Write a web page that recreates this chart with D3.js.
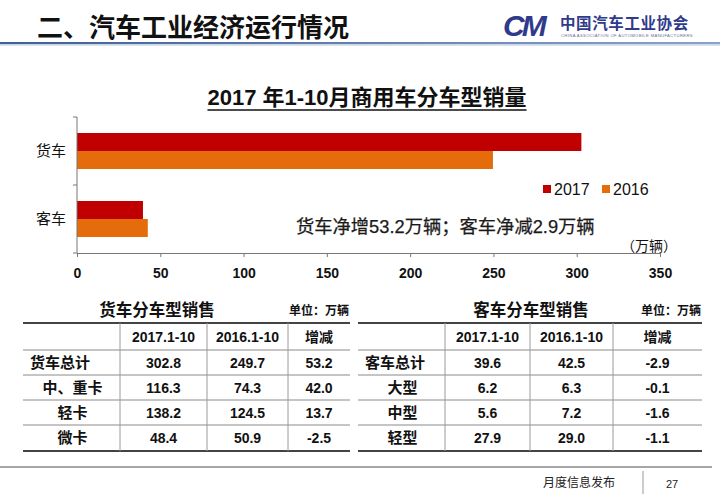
<!DOCTYPE html>
<html><head><meta charset="utf-8">
<script src="https://cdn.jsdelivr.net/npm/d3@7"></script>
<style>
body{margin:0;background:#fff;}
svg{display:block;}
</style></head>
<body>
<svg id="c" width="720" height="498"></svg>
<script>
// ---- data ----
const categories = ["货车", "客车"];
const seriesNames = ["2017", "2016"];
const sales2017 = [302.8, 39.6];
const sales2016 = [249.7, 42.5];
const xTicks = [0, 50, 100, 150, 200, 250, 300, 350];

const truckHeader = ["", "2017.1-10", "2016.1-10", "增减"];
const truckLabels = ["货车总计", "中、重卡", "轻卡", "微卡"];
const truck2017 = ["302.8", "116.3", "138.2", "48.4"];
const truck2016 = ["249.7", "74.3", "124.5", "50.9"];
const truckDiff = ["53.2", "42.0", "13.7", "-2.5"];

const busLabels = ["客车总计", "大型", "中型", "轻型"];
const bus2017 = ["39.6", "6.2", "5.6", "27.9"];
const bus2016 = ["42.5", "6.3", "7.2", "29.0"];
const busDiff = ["-2.9", "-0.1", "-1.6", "-1.1"];

// ---- drawing ----
const svg = d3.select("#c");
const FONT = "'Liberation Sans','Noto Sans CJK SC',sans-serif";
const CJK = "'Noto Sans CJK SC','Liberation Sans',sans-serif";
const colors = {"2017": "#C00000", "2016": "#E46C0A"};

// header
svg.append("text").attr("x", 37).attr("y", 37)
  .attr("font-family", CJK).attr("font-weight", "bold").attr("font-size", 26)
  .attr("fill", "#111").text("二、汽车工业经济运行情况");
const hg = svg.append("defs").append("linearGradient").attr("id", "hl");
hg.append("stop").attr("offset", "0%").attr("stop-color", "#3f5f96");
hg.append("stop").attr("offset", "100%").attr("stop-color", "#8aa3c8");
svg.append("rect").attr("x", 0).attr("y", 42).attr("width", 720).attr("height", 2.2).attr("fill", "url(#hl)");
svg.append("rect").attr("x", 0).attr("y", 44.2).attr("width", 720).attr("height", 1.5).attr("fill", "#c9d4e6");

// logo
const logoC = "#2f3a8a";
svg.append("text").attr("x", 503).attr("y", 36)
  .attr("font-family", FONT).attr("font-weight", "bold").attr("font-style", "italic")
  .attr("font-size", 30).attr("fill", logoC).attr("letter-spacing", -3).text("CM");
svg.append("text").attr("x", 560).attr("y", 29)
  .attr("font-family", CJK).attr("font-weight", "bold").attr("font-size", 15.5)
  .attr("fill", logoC).attr("letter-spacing", 0.6).text("中国汽车工业协会");
svg.append("text").attr("x", 561).attr("y", 37)
  .attr("font-family", FONT).attr("font-size", 4.2)
  .attr("fill", "#6a6f90").attr("letter-spacing", 0.35).text("CHINA ASSOCIATION OF AUTOMOBILE MANUFACTURERS");

// chart title
const title = svg.append("text").attr("x", 367).attr("y", 105).attr("text-anchor", "middle")
  .attr("font-family", FONT).attr("font-weight", "bold").attr("font-size", 22)
  .attr("fill", "#111").text("2017 年1-10月商用车分车型销量");
const tb = title.node().getBBox();
svg.append("line").attr("x1", tb.x).attr("x2", tb.x + tb.width).attr("y1", 110).attr("y2", 110)
  .attr("stroke", "#111").attr("stroke-width", 1.5);

// scales
const x = d3.scaleLinear().domain([0, 350]).range([77, 660]);
const y = d3.scaleBand().domain(categories).range([117, 253]);
const yInner = d3.scaleBand().domain(seriesNames).range([0, 36]);
const innerOff = (y.bandwidth() - 36) / 2;

const barData = [];
categories.forEach((c, i) => {
  barData.push({cat: c, s: "2017", v: sales2017[i]});
  barData.push({cat: c, s: "2016", v: sales2016[i]});
});
svg.append("g").selectAll("rect").data(barData).join("rect")
  .attr("x", x(0))
  .attr("y", d => y(d.cat) + innerOff + yInner(d.s))
  .attr("width", d => x(d.v) - x(0))
  .attr("height", yInner.bandwidth())
  .attr("fill", d => colors[d.s]);

// x axis
const xa = svg.append("g").attr("transform", "translate(0,253)")
  .call(d3.axisBottom(x).tickValues(xTicks).tickSize(4).tickPadding(11).tickSizeOuter(0));
xa.select(".domain").attr("stroke", "#777");
xa.selectAll(".tick line").attr("stroke", "#777");
xa.selectAll(".tick text").attr("font-family", FONT).attr("font-weight", "bold")
  .attr("font-size", 14).attr("fill", "#111");

// y axis
const yg = svg.append("g");
yg.append("line").attr("x1", x(0)).attr("x2", x(0)).attr("y1", y.range()[0]).attr("y2", y.range()[1])
  .attr("stroke", "#777");
const edges = categories.map(c => y(c)).concat([y.range()[1]]);
yg.selectAll("line.t").data(edges).join("line").attr("class", "t")
  .attr("x1", x(0) - 4).attr("x2", x(0)).attr("y1", d => d).attr("y2", d => d).attr("stroke", "#777");
yg.selectAll("text").data(categories).join("text")
  .attr("x", 66).attr("y", d => y(d) + y.bandwidth() / 2).attr("dy", "0.35em")
  .attr("text-anchor", "end").attr("font-family", CJK).attr("font-size", 15).attr("fill", "#111")
  .text(d => d);

// legend
const lg = svg.append("g").attr("transform", "translate(543,189)");
seriesNames.forEach((s, i) => {
  const g = lg.append("g").attr("transform", `translate(${i * 59},0)`);
  g.append("rect").attr("x", 0).attr("y", -4).attr("width", 8).attr("height", 8).attr("fill", colors[s]);
  g.append("text").attr("x", 11).attr("y", 0).attr("dy", "0.36em")
    .attr("font-family", FONT).attr("font-size", 16).attr("fill", "#111").text(s);
});

// annotation
svg.append("text").attr("x", 296).attr("y", 226).attr("dy", "0.36em")
  .attr("font-family", FONT).attr("font-size", 18.3).attr("fill", "#1a1a1a")
  .attr("stroke", "#1a1a1a").attr("stroke-width", 0.25)
  .text("货车净增53.2万辆；客车净减2.9万辆");
svg.append("text").attr("x", 621).attr("y", 246).attr("dy", "0.36em")
  .attr("font-family", CJK).attr("font-size", 14).attr("fill", "#111").text("（万辆）");

// tables
function drawTable(left, colEdges, tTitle, labels, c1, c2, c3) {
  const rows = [323, 350, 375, 400, 425, 451];
  const g = svg.append("g");
  const L = colEdges[0], R = colEdges[colEdges.length - 1];
  g.append("text").attr("x", tTitle.cx).attr("y", 310).attr("dy", "0.36em").attr("text-anchor", "middle")
    .attr("font-family", CJK).attr("font-weight", "bold").attr("font-size", 16.5).attr("fill", "#111")
    .text(tTitle.t);
  g.append("text").attr("x", R - 1).attr("y", 311).attr("dy", "0.36em").attr("text-anchor", "end")
    .attr("font-family", CJK).attr("font-weight", "bold").attr("font-size", 12).attr("fill", "#111")
    .text("单位：万辆");
  rows.forEach((ry, i) => {
    const outer = i === 0 || i === rows.length - 1;
    g.append("line").attr("x1", L).attr("x2", R).attr("y1", ry).attr("y2", ry)
      .attr("stroke", outer ? "#444" : "#8a8a8a").attr("stroke-width", outer ? 2 : 1);
  });
  colEdges.slice(1, -1).forEach(cx => {
    g.append("line").attr("x1", cx).attr("x2", cx).attr("y1", rows[0]).attr("y2", rows[rows.length - 1])
      .attr("stroke", "#9a9a9a").attr("stroke-width", 1);
  });
  const mid = k => (colEdges[k] + colEdges[k + 1]) / 2;
  const rmid = r => (rows[r] + rows[r + 1]) / 2;
  truckHeader.forEach((h, k) => {
    if (!h) return;
    g.append("text").attr("x", mid(k)).attr("y", rmid(0)).attr("dy", "0.36em").attr("text-anchor", "middle")
      .attr("font-family", FONT).attr("font-weight", "bold").attr("font-size", 14).attr("fill", "#111").text(h);
  });
  labels.forEach((lab, r) => {
    const t = g.append("text").attr("y", rmid(r + 1)).attr("dy", "0.36em")
      .attr("font-family", CJK).attr("font-weight", "bold").attr("font-size", 15).attr("fill", "#111").text(lab);
    if (r === 0) t.attr("x", L + 7).attr("text-anchor", "start");
    else t.attr("x", mid(0) + 1).attr("text-anchor", "middle");
    [c1, c2, c3].forEach((col, k) => {
      g.append("text").attr("x", mid(k + 1)).attr("y", rmid(r + 1)).attr("dy", "0.36em").attr("text-anchor", "middle")
        .attr("font-family", FONT).attr("font-weight", "bold").attr("font-size", 14).attr("fill", "#111").text(col[r]);
    });
  });
}
drawTable(23, [23, 120, 207, 288, 350], {t: "货车分车型销售", cx: 157}, truckLabels, truck2017, truck2016, truckDiff);
drawTable(358, [358, 445, 530, 613, 702], {t: "客车分车型销售", cx: 531}, busLabels, bus2017, bus2016, busDiff);

// footer
svg.append("line").attr("x1", 0).attr("x2", 712).attr("y1", 467).attr("y2", 467)
  .attr("stroke", "#888").attr("stroke-width", 1.5);
svg.append("text").attr("x", 615).attr("y", 483).attr("dy", "0.36em").attr("text-anchor", "end")
  .attr("font-family", CJK).attr("font-size", 12).attr("fill", "#222").text("月度信息发布");
svg.append("line").attr("x1", 643).attr("x2", 643).attr("y1", 471).attr("y2", 494)
  .attr("stroke", "#999").attr("stroke-width", 1);
svg.append("text").attr("x", 672).attr("y", 484).attr("dy", "0.36em").attr("text-anchor", "middle")
  .attr("font-family", FONT).attr("font-size", 11).attr("fill", "#222").text("27");
</script>
</body></html>
